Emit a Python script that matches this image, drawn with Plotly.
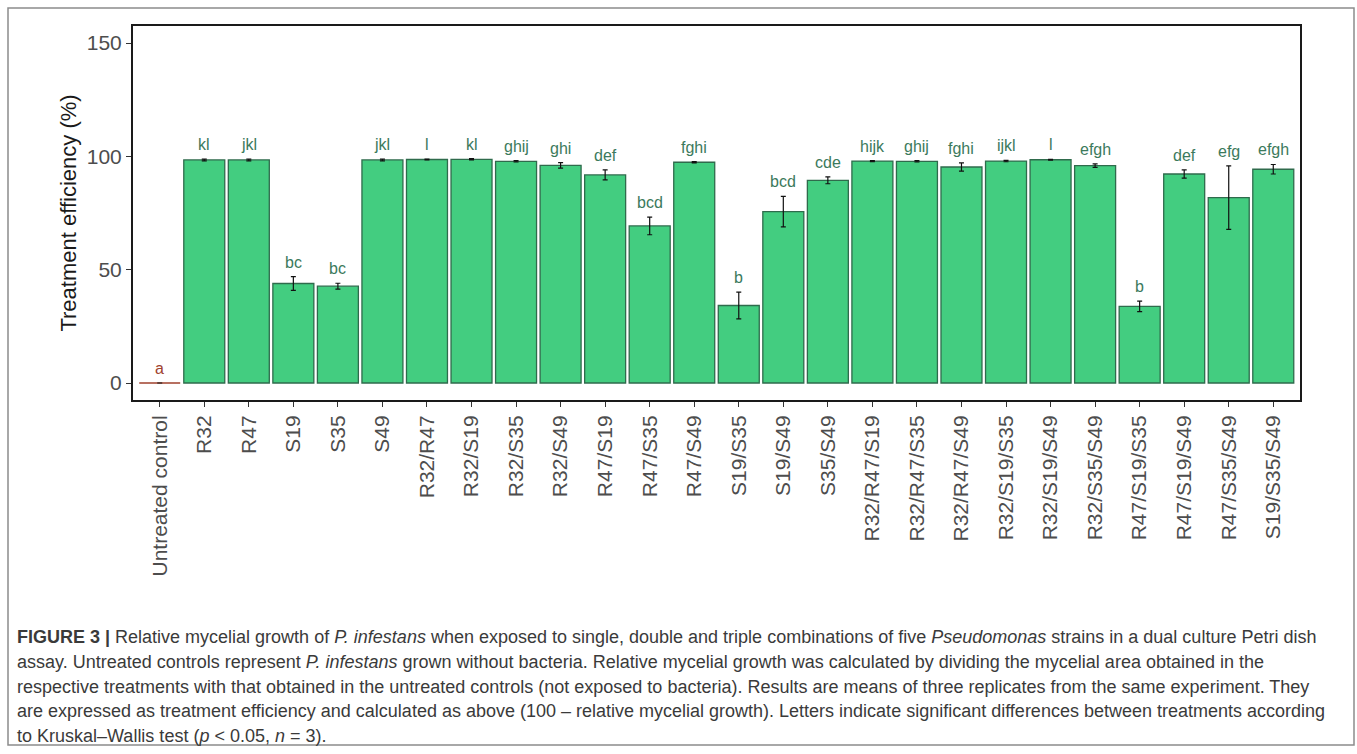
import plotly.graph_objects as go

categories = ["Untreated control", "R32", "R47", "S19", "S35", "S49",
              "R32/R47", "R32/S19", "R32/S35", "R32/S49", "R47/S19", "R47/S35", "R47/S49",
              "S19/S35", "S19/S49", "S35/S49",
              "R32/R47/S19", "R32/R47/S35", "R32/R47/S49", "R32/S19/S35", "R32/S19/S49",
              "R32/S35/S49", "R47/S19/S35", "R47/S19/S49", "R47/S35/S49", "S19/S35/S49"]
efficiency = [0, 98.4, 98.4, 43.9, 42.7, 98.4,
              98.6, 98.7, 97.8, 96.0, 91.8, 69.3, 97.4,
              34.2, 75.6, 89.4,
              97.9, 97.8, 95.3, 97.9, 98.5,
              95.9, 33.8, 92.2, 81.8, 94.3]
std_err = [None, 0.4, 0.4, 3.0, 1.3, 0.4,
           0.2, 0.3, 0.3, 1.2, 2.2, 3.9, 0.3,
           5.9, 6.7, 1.5,
           0.2, 0.3, 1.8, 0.3, 0.2,
           0.8, 2.3, 1.8, 14.0, 2.1]
letters = ["a", "kl", "jkl", "bc", "bc", "jkl",
           "l", "kl", "ghij", "ghi", "def", "bcd", "fghi",
           "b", "bcd", "cde",
           "hijk", "ghij", "fghi", "ijkl", "l",
           "efgh", "b", "def", "efg", "efgh"]
y_ticks = [0, 50, 100, 150]

caption_lines = [
    "<b>FIGURE 3 |</b> Relative mycelial growth of <i>P. infestans</i> when exposed to single, double and triple combinations of five <i>Pseudomonas</i> strains in a dual culture Petri dish",
    "assay. Untreated controls represent <i>P. infestans</i> grown without bacteria. Relative mycelial growth was calculated by dividing the mycelial area obtained in the",
    "respective treatments with that obtained in the untreated controls (not exposed to bacteria). Results are means of three replicates from the same experiment. They",
    "are expressed as treatment efficiency and calculated as above (100 \u2013 relative mycelial growth). Letters indicate significant differences between treatments according",
    "to Kruskal\u2013Wallis test (<i>p</i> &lt; 0.05, <i>n</i> = 3).",
]

GREEN_FILL = "#43CD80"
GREEN_LINE = "#2F6B4C"
LETTER_GREEN = "#3C7A5C"
SIENNA = "#A0422E"
FONT = "Liberation Sans, Arial, sans-serif"

line_colors = [SIENNA] + [GREEN_LINE] * (len(categories) - 1)
letter_colors = [SIENNA] + [LETTER_GREEN] * (len(categories) - 1)

fig = go.Figure()
fig.add_trace(go.Bar(
    x=categories, y=efficiency, width=0.92,
    marker=dict(color=GREEN_FILL, line=dict(color=line_colors, width=1.3)),
    error_y=dict(type="data", array=[e if e is not None else float("nan") for e in std_err],
                 visible=True, color="#111111", thickness=1.2, width=2.5),
    hoverinfo="x+y",
))

annotations = []
for cat, val, err, lab, col in zip(categories, efficiency, std_err, letters, letter_colors):
    top = val + (err or 0)
    annotations.append(dict(
        x=cat, y=top, xref="x", yref="y", text=lab, showarrow=False,
        yanchor="bottom", xanchor="center", yshift=4,
        font=dict(family=FONT, size=16, color=col),
    ))

# caption lines (paper coords: plot area 133..1300 x, 26..400 y)
W_PLOT = 1300 - 133
H_PLOT = 400 - 26
caption_y_px = [637, 662, 687, 711, 736]
for txt, py in zip(caption_lines, caption_y_px):
    annotations.append(dict(
        x=(15 - 133) / W_PLOT, y=(400 - py) / H_PLOT, xref="paper", yref="paper",
        text=txt, showarrow=False, xanchor="left", yanchor="middle",
        font=dict(family=FONT, size=18, color="#3A3A3A"), align="left",
    ))

fig.update_layout(
    width=1357, height=754,
    margin=dict(l=133, r=57, t=26, b=354, autoexpand=False),
    paper_bgcolor="white", plot_bgcolor="white",
    showlegend=False,
    font=dict(family=FONT, color="#4D4D4D"),
    annotations=annotations,
    bargap=0.08,
    shapes=[dict(type="rect", xref="paper", yref="paper",
                 x0=(8 - 133) / W_PLOT, x1=(1354 - 133) / W_PLOT,
                 y0=(400 - 745) / H_PLOT, y1=(400 - 8) / H_PLOT,
                 line=dict(color="#8C8C8C", width=1.5), fillcolor="rgba(0,0,0,0)", layer="below")],
)
fig.update_xaxes(
    type="category", range=[-0.6, len(categories) - 0.4],
    showline=True, linecolor="#1A1A1A", linewidth=2, mirror=True,
    ticks="outside", ticklen=5, tickwidth=1.3, tickcolor="#333333",
    tickangle=-90, tickfont=dict(family=FONT, size=21, color="#4D4D4D"),
    showgrid=False, zeroline=False, automargin=False,
)
fig.update_yaxes(
    range=[-7.5, 157.5], tickvals=y_ticks, ticktext=[str(v) for v in y_ticks],
    showline=True, linecolor="#1A1A1A", linewidth=2, mirror=True,
    ticks="outside", ticklen=5, tickwidth=1.3, tickcolor="#333333",
    tickfont=dict(family=FONT, size=21, color="#4D4D4D"),
    title=dict(text="Treatment efficiency (%)", font=dict(family=FONT, size=22, color="#1A1A1A"), standoff=4),
    showgrid=False, zeroline=False, automargin=False,
)

fig.write_html("out.html")
